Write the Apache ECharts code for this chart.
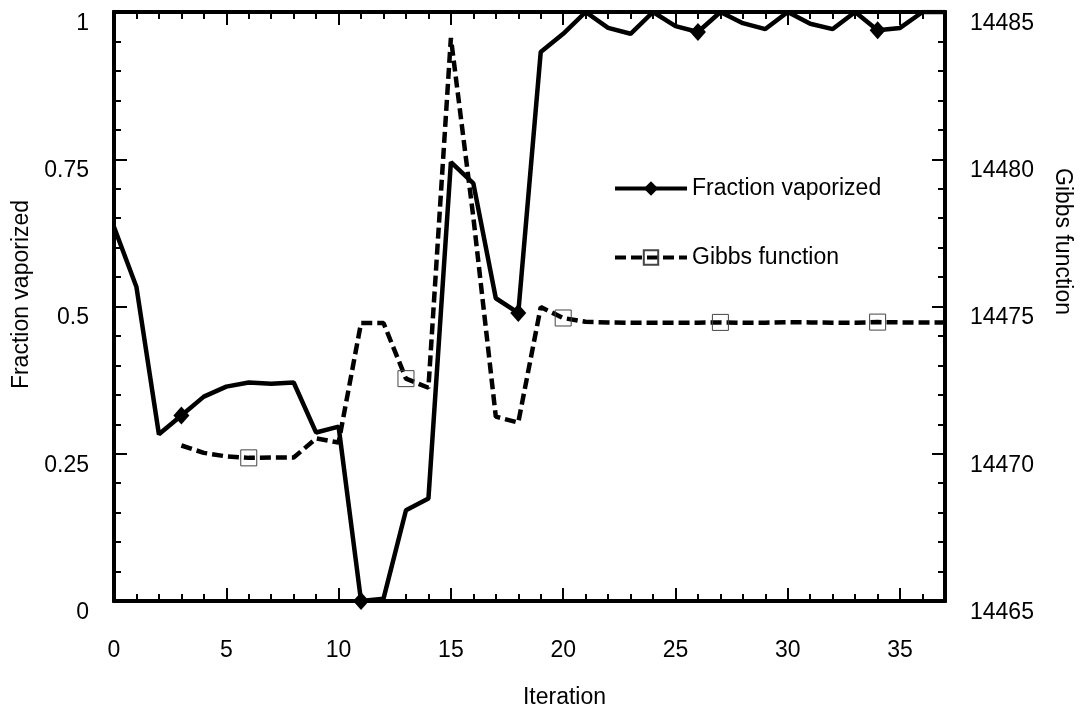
<!DOCTYPE html>
<html>
<head>
<meta charset="utf-8">
<script src="https://cdn.jsdelivr.net/npm/echarts@6/dist/echarts.min.js"></script>
<style>
  html, body { margin: 0; padding: 0; background: #fff; }
  #chart { width: 1082px; height: 714px; }
</style>
</head>
<body>
<div id="chart"></div>
<script>
// iteration number on the x axis
const iterations = [0, 1, 2, 3, 4, 5, 6, 7, 8, 9, 10, 11, 12, 13, 14, 15, 16, 17, 18,
  19, 20, 21, 22, 23, 24, 25, 26, 27, 28, 29, 30, 31, 32, 33, 34, 35, 36, 37];

// left axis: fraction vaporized
const fraction = [0.635, 0.533, 0.283, 0.315, 0.347, 0.364, 0.371, 0.369, 0.371, 0.286,
  0.296, 0.0, 0.004, 0.154, 0.174, 0.745, 0.709, 0.514, 0.489, 0.932,
  0.963, 1.0, 0.973, 0.963, 1.0, 0.976, 0.966, 1.0, 0.981, 0.971,
  1.0, 0.98, 0.971, 1.0, 0.969, 0.973, 1.0, 1.0];

// right axis: Gibbs function (no value for the first three iterations)
const gibbs = [null, null, null, 14470.28, 14470.03, 14469.91, 14469.86, 14469.87, 14469.87, 14470.52,
  14470.38, 14474.44, 14474.44, 14472.55, 14472.24, 14484.12, 14478.03, 14471.26, 14471.06, 14474.98,
  14474.61, 14474.48, 14474.46, 14474.45, 14474.45, 14474.45, 14474.45, 14474.46, 14474.45, 14474.45,
  14474.47, 14474.46, 14474.45, 14474.45, 14474.47, 14474.46, 14474.46, 14474.46];

// iterations that carry a marker
const fractionMarks = [3, 11, 18, 26, 34];
const gibbsMarks = [6, 13, 20, 27, 34];

const FONT = 'Liberation Sans, Arial, sans-serif';
const FS = 23;
const AXIS_LINE = { show: true, onZero: false, lineStyle: { color: '#000', width: 4 } };

function pts(values, marks, symbol) {
  return values.map((v, i) => ({
    value: [iterations[i], v == null ? '-' : v],
    symbol: marks.includes(i) ? symbol : 'none'
  }));
}

function ticks(len) {
  return { show: true, inside: true, length: len, lineStyle: { color: '#000', width: 2 } };
}

// x axes: minor (every 1) and major (every 5) ticks, at bottom and top
function frameX(position, interval, len, labels) {
  return {
    type: 'value', position: position, min: 0, max: 37, interval: interval,
    axisLine: AXIS_LINE,
    axisTick: ticks(len),
    axisLabel: labels ? {
      show: true, margin: 38, color: '#000', fontSize: FS, fontFamily: FONT,
      formatter: v => (v % 5 === 0 ? String(v) : '')
    } : { show: false },
    splitLine: { show: false },
    name: labels ? 'Iteration' : '',
    nameLocation: 'middle', nameGap: 85,
    nameTextStyle: { color: '#000', fontSize: FS, fontFamily: FONT, padding: [0, 0, 0, 70] }
  };
}

// y axes: the labelled major one and a tick-only minor one per side
function frameY(position, min, max, interval, len, labels) {
  return {
    type: 'value', position: position, min: min, max: max, interval: interval,
    axisLine: AXIS_LINE,
    axisTick: ticks(len),
    axisLabel: labels ? {
      show: true, margin: 25, color: '#000', fontSize: FS, fontFamily: FONT,
      verticalAlign: 'top', formatter: v => String(v)
    } : { show: false },
    splitLine: { show: false }
  };
}

const yLeft = frameY('left', 0, 1, 0.25, 13, true);
yLeft.name = 'Fraction vaporized';
yLeft.nameLocation = 'middle';
yLeft.nameGap = 70;
yLeft.nameTextStyle = { color: '#000', fontSize: FS, fontFamily: FONT, padding: [0, 0, 0, 24] };

const yRight = frameY('right', 14465, 14485, 5, 13, true);
yRight.name = 'Gibbs function';
yRight.nameLocation = 'middle';
yRight.nameGap = 106;
yRight.nameRotate = -90;
yRight.nameTextStyle = { color: '#000', fontSize: FS, fontFamily: FONT, padding: [0, 130, 0, 0] };

const chart = echarts.init(document.getElementById('chart'));
chart.setOption({
  animation: false,
  backgroundColor: '#fff',
  grid: { left: 114, right: 137, top: 12, bottom: 112, containLabel: false },
  legend: {
    orient: 'vertical', left: 608, top: 172, itemGap: 46,
    itemWidth: 72, itemHeight: 18,
    lineStyle: { width: 4 },
    textStyle: { color: '#000', fontSize: FS, fontFamily: FONT },
    data: ['Fraction vaporized', 'Gibbs function']
  },
  xAxis: [
    frameX('bottom', 1, 7, true),
    frameX('bottom', 5, 13, false),
    frameX('top', 1, 7, false),
    frameX('top', 5, 13, false)
  ],
  yAxis: [
    yLeft,
    yRight,
    frameY('left', 0, 1, 0.05, 7, false),
    frameY('right', 14465, 14485, 1, 7, false)
  ],
  series: [
    {
      name: 'Gibbs function', type: 'line', xAxisIndex: 0, yAxisIndex: 1,
      symbol: 'rect', symbolSize: 16,
      itemStyle: { color: 'rgba(255,255,255,0)', borderColor: '#444', borderWidth: 1 },
      lineStyle: { color: '#000', width: 4.5, type: [11, 5] },
      data: pts(gibbs, gibbsMarks, 'rect'),
      z: 3
    },
    {
      name: 'Fraction vaporized', type: 'line', xAxisIndex: 0, yAxisIndex: 0,
      symbol: 'diamond', symbolSize: [16, 18],
      itemStyle: { color: '#000' },
      lineStyle: { color: '#000', width: 4.5 },
      data: pts(fraction, fractionMarks, 'diamond'),
      z: 4
    }
  ]
});
</script>
</body>
</html>
